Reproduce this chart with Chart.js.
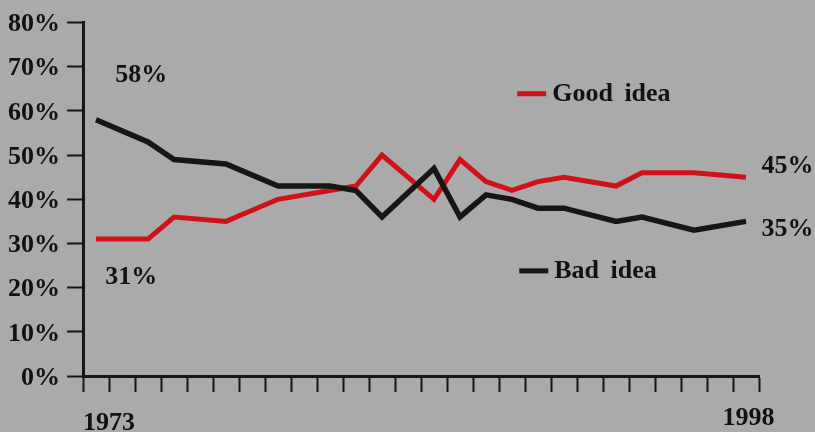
<!DOCTYPE html>
<html>
<head>
<meta charset="utf-8">
<script src="https://cdn.jsdelivr.net/npm/chart.js@4"></script>
<style>
  body { margin: 0; background: #aaaaaa; }
  #wrap { width: 815px; height: 432px; }
</style>
</head>
<body>
<div id="wrap"><canvas id="chart" width="815" height="432"></canvas></div>
<script>
// survey years, one per category (gaps = not asked that year)
const years = ['1973','1974','1975','1976','1977','1978','1979','1980','1981','1982','1983','1984','1985',
               '1986','1987','1988','1989','1990','1991','1992','1993','1994','1995','1996','1997','1998'];
const goodIdea = [31, null, 31, 36, null, 35, null, 40, null, 42, 43, 50, null,
                  40, 49, 44, 42, 44, 45, null, 43, 46, null, 46, null, 45];
const badIdea  = [58, null, 53, 49, null, 48, null, 43, null, 43, 42, 36, null,
                  47, 36, 41, 40, 38, 38, null, 35, 36, null, 33, null, 35];
const yTicks = [0, 10, 20, 30, 40, 50, 60, 70, 80];

const RED = '#cf1119';
const BLACK = '#161616';
const FONT = 'bold 26px "Liberation Serif", "Times New Roman", serif';

// text drawn on the plot: x in category units, y in percent
const notes = [
    { text: '58%', x: 1.74, y: 66.6, align: 'center' },
    { text: '31%', x: 1.36, y: 20.9, align: 'center' },
    { text: '45%', x: 25.6, y: 45.9, align: 'left' },
    { text: '35%', x: 25.6, y: 31.6, align: 'left' },
];
const keys = [
    { text: 'Good idea', color: RED, x: 16.2, y: 62.2 },
    { text: 'Bad idea', color: BLACK, x: 16.28, y: 22.1 },
];
const endLabels = [
    { text: '1973', x: 0.5, dy: 54 },
    { text: '1998', x: 25.1, dy: 49 },
];

const annotate = {
    id: 'annotate',
    afterDraw(chart) {
        const { ctx, scales: { x, y }, chartArea } = chart;
        ctx.save();
        ctx.font = FONT;
        ctx.fillStyle = '#111';
        ctx.textBaseline = 'alphabetic';
        notes.forEach(n => {
            ctx.textAlign = n.align;
            ctx.fillText(n.text, x.getPixelForValue(n.x), y.getPixelForValue(n.y));
        });
        if ('wordSpacing' in ctx) ctx.wordSpacing = '5px';
        keys.forEach(k => {
            const px = x.getPixelForValue(k.x);
            const py = y.getPixelForValue(k.y);
            ctx.strokeStyle = k.color;
            ctx.lineWidth = 5;
            ctx.beginPath();
            ctx.moveTo(px, py - 7.5);
            ctx.lineTo(px + 29, py - 7.5);
            ctx.stroke();
            ctx.textAlign = 'left';
            ctx.fillStyle = '#111';
            ctx.fillText(k.text, px + 35, py);
        });
        ctx.textAlign = 'center';
        endLabels.forEach(l => {
            ctx.fillText(l.text, x.getPixelForValue(l.x), chartArea.bottom + l.dy);
        });
        ctx.restore();
    }
};

new Chart(document.getElementById('chart').getContext('2d'), {
    type: 'line',
    data: {
        labels: years,
        datasets: [
            { label: 'Bad idea', data: badIdea, borderColor: BLACK, borderWidth: 5.5 },
            { label: 'Good idea', data: goodIdea, borderColor: RED, borderWidth: 5 }
        ]
    },
    options: {
        responsive: false,
        animation: false,
        spanGaps: true,
        layout: { padding: { top: 17, right: 56, left: 0, bottom: 0 } },
        elements: {
            point: { radius: 0 },
            line: { tension: 0, borderJoinStyle: 'miter', borderCapStyle: 'butt', fill: false }
        },
        plugins: { legend: { display: false }, tooltip: { enabled: false } },
        scales: {
            x: {
                offset: true,
                grid: { offset: true, drawOnChartArea: false, drawTicks: true, tickLength: 16, tickColor: BLACK, tickWidth: 2 },
                border: { display: true, color: BLACK, width: 3 },
                ticks: { display: false, autoSkip: false },
                afterFit: s => { s.height = 56; }
            },
            y: {
                min: 0,
                max: 80,
                afterBuildTicks: s => { s.ticks = yTicks.map(v => ({ value: v })); },
                grid: { drawOnChartArea: false, drawTicks: true, tickLength: 16, tickColor: BLACK, tickWidth: 2 },
                border: { display: true, color: BLACK, width: 3 },
                ticks: {
                    color: '#111',
                    font: { family: '"Liberation Serif", "Times New Roman", serif', size: 26, weight: 'bold' },
                    padding: 7,
                    labelOffset: 2,
                    callback: v => v + '%'
                },
                afterFit: s => { s.width = 83; }
            }
        }
    },
    plugins: [annotate]
});
</script>
</body>
</html>
